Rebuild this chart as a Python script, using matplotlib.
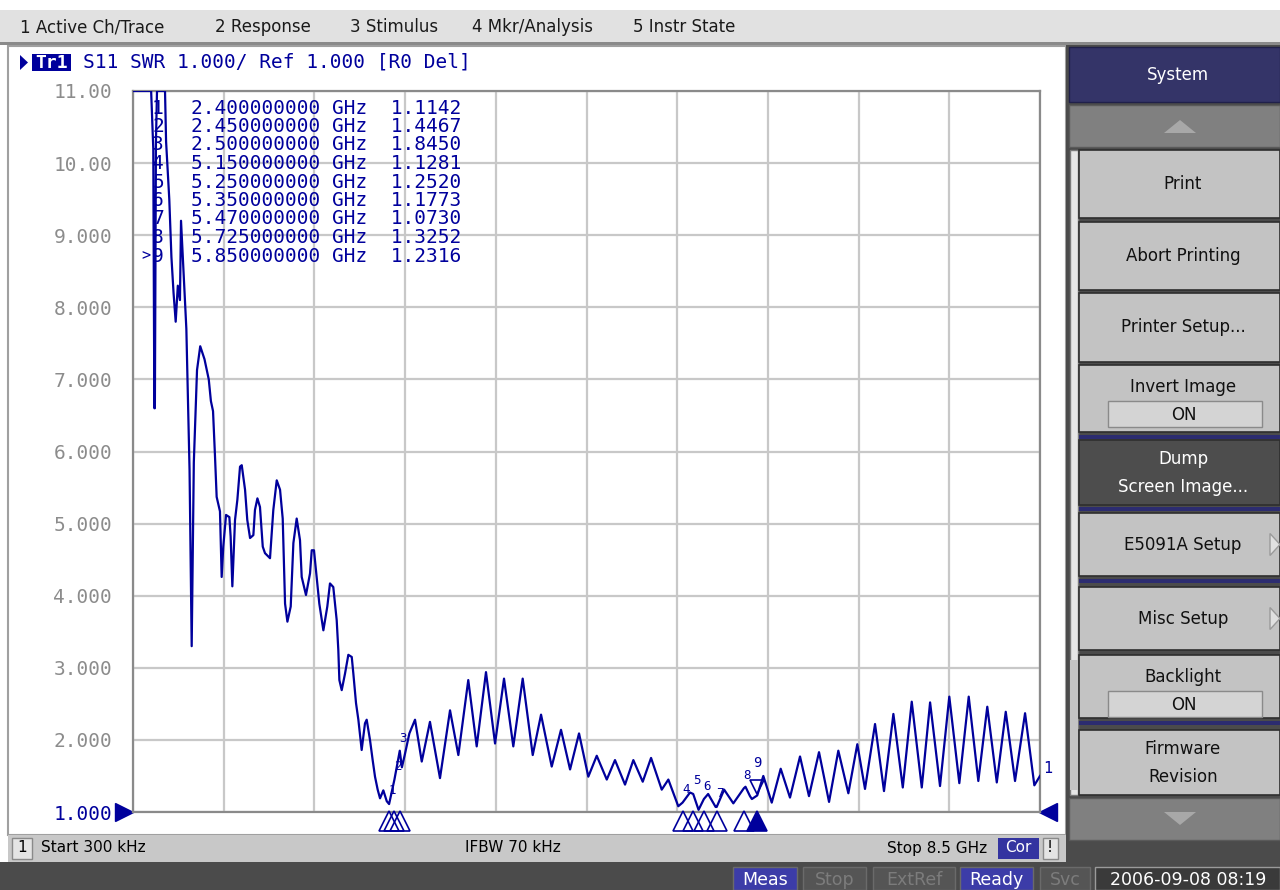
import numpy as np
import matplotlib
matplotlib.use("Agg")
import matplotlib.pyplot as plt
from matplotlib.patches import Rectangle, Polygon
from matplotlib.transforms import blended_transform_factory

# S11 SWR trace
freq_ghz = [0.0003, 0.17, 0.19, 0.20, 0.205, 0.215, 0.225, 0.27, 0.30, 0.31,
            0.34, 0.36, 0.38, 0.40, 0.42, 0.44, 0.45, 0.47, 0.50, 0.53,
            0.55, 0.57, 0.60, 0.63, 0.67, 0.71, 0.73, 0.75, 0.768, 0.784,
            0.815, 0.831, 0.846, 0.872, 0.903, 0.915, 0.931, 0.956, 0.978, 1.003,
            1.019, 1.050, 1.071, 1.097, 1.128, 1.143, 1.166, 1.190, 1.216, 1.237,
            1.284, 1.315, 1.347, 1.378, 1.403, 1.425, 1.447, 1.478, 1.503, 1.534,
            1.565, 1.581, 1.621, 1.659, 1.675, 1.696, 1.721, 1.746, 1.784, 1.821,
            1.846, 1.877, 1.909, 1.924, 1.934, 1.956, 1.987, 2.018, 2.050, 2.065,
            2.090, 2.112, 2.143, 2.174, 2.190, 2.221, 2.246, 2.268, 2.293, 2.315,
            2.346, 2.378, 2.40, 2.45, 2.50, 2.52, 2.545, 2.59, 2.643, 2.706,
            2.783, 2.877, 2.971, 3.049, 3.142, 3.221, 3.308, 3.393, 3.477, 3.564,
            3.652, 3.746, 3.824, 3.924, 4.011, 4.096, 4.180, 4.267, 4.346, 4.440,
            4.517, 4.611, 4.689, 4.777, 4.855, 4.955, 5.017, 5.11, 5.15, 5.22,
            5.25, 5.30, 5.35, 5.39, 5.46, 5.47, 5.54, 5.626, 5.725, 5.74,
            5.782, 5.80, 5.85, 5.907, 5.986, 6.070, 6.157, 6.251, 6.335, 6.429,
            6.523, 6.610, 6.704, 6.788, 6.860, 6.954, 7.038, 7.126, 7.214, 7.298,
            7.392, 7.470, 7.563, 7.650, 7.744, 7.832, 7.922, 8.006, 8.095, 8.179,
            8.266, 8.360, 8.447, 8.50]
swr = [11.5, 11.5, 10.2, 6.6, 6.6, 10.3, 11.5, 11.5, 11.5, 10.3,
       9.5, 8.7, 8.2, 7.8, 8.3, 8.1, 9.2, 8.6, 7.7, 5.74,
       3.3, 5.85, 7.13, 7.46, 7.28, 7.0, 6.7, 6.56, 5.95, 5.37,
       5.17, 4.26, 4.68, 5.12, 5.09, 4.82, 4.13, 5.05, 5.33, 5.79,
       5.81, 5.47, 5.05, 4.80, 4.84, 5.19, 5.35, 5.23, 4.68, 4.59,
       4.52, 5.19, 5.60, 5.47, 5.07, 3.89, 3.64, 3.85, 4.73, 5.07,
       4.77, 4.26, 4.01, 4.31, 4.63, 4.63, 4.26, 3.89, 3.52, 3.85,
       4.17, 4.12, 3.66, 3.25, 2.83, 2.69, 2.92, 3.18, 3.15, 2.92,
       2.51, 2.28, 1.86, 2.23, 2.28, 2.00, 1.72, 1.49, 1.31, 1.19,
       1.30, 1.15, 1.11, 1.45, 1.85, 1.62, 1.78, 2.09, 2.28, 1.70,
       2.25, 1.47, 2.41, 1.79, 2.83, 1.91, 2.94, 1.95, 2.85, 1.91,
       2.85, 1.79, 2.35, 1.63, 2.14, 1.59, 2.09, 1.49, 1.78, 1.45,
       1.72, 1.38, 1.72, 1.42, 1.75, 1.31, 1.45, 1.08, 1.13, 1.27,
       1.25, 1.03, 1.18, 1.25, 1.07, 1.07, 1.31, 1.12, 1.33, 1.35,
       1.22, 1.18, 1.23, 1.50, 1.13, 1.60, 1.20, 1.77, 1.22, 1.83,
       1.14, 1.85, 1.26, 1.94, 1.32, 2.22, 1.29, 2.36, 1.34, 2.53,
       1.34, 2.52, 1.36, 2.60, 1.40, 2.60, 1.43, 2.46, 1.41, 2.39,
       1.43, 2.37, 1.37, 1.50]

# markers
mk_num = [1, 2, 3, 4, 5, 6, 7, 8, 9]
mk_freq = [2.40, 2.45, 2.50, 5.15, 5.25, 5.35, 5.47, 5.725, 5.85]
mk_val = [1.1142, 1.4467, 1.8450, 1.1281, 1.2520, 1.1773, 1.0730, 1.3252, 1.2316]
active_mk = 9

y_ticks = [11, 10, 9, 8, 7, 6, 5, 4, 3, 2, 1]
y_labels = ["11.00", "10.00", "9.000", "8.000", "7.000", "6.000",
            "5.000", "4.000", "3.000", "2.000", "1.000"]
x_ticks = [0.85 * k for k in range(11)]

menu_items = ["1 Active Ch/Trace", "2 Response", "3 Stimulus", "4 Mkr/Analysis", "5 Instr State"]
header = "S11 SWR 1.000/ Ref 1.000 [R0 Del]"
start_txt = "Start 300 kHz"
ifbw_txt = "IFBW 70 kHz"
stop_txt = "Stop 8.5 GHz"
status_items = ["Meas", "Stop", "ExtRef", "Ready", "Svc"]
status_on = [True, False, False, True, False]
date_txt = "2006-09-08 08:19"

NAVY = "#00009c"
MONO = "DejaVu Sans Mono"
plt.rcParams["font.family"] = ["DejaVu Sans"]

fig = plt.figure(figsize=(12.8, 8.9), dpi=100)
fig.patch.set_facecolor("white")

# background axes in pixel units for the instrument chrome
bg = fig.add_axes([0, 0, 1, 1], zorder=0)
bg.set_xlim(0, 1280)
bg.set_ylim(890, 0)
bg.axis("off")

ov = fig.add_axes([0, 0, 1, 1], zorder=3)
ov.set_xlim(0, 1280)
ov.set_ylim(890, 0)
ov.axis("off")
ov.patch.set_alpha(0)


def box(a, x0, y0, x1, y1, fc, ec="none", lw=0, z=1):
    a.add_patch(Rectangle((x0, y0), x1 - x0, y1 - y0, facecolor=fc,
                          edgecolor=ec, linewidth=lw, zorder=z))


# menu bar
box(bg, 0, 10, 1280, 42, "#e1e1e1")
box(bg, 0, 42, 1280, 45, "#8a8a8a")
menu_x = [20, 215, 350, 472, 633]
for mx, item in zip(menu_x, menu_items):
    bg.text(mx, 27, item, fontsize=12, color="#1a1a1a", va="center", ha="left")

# chart panel
box(bg, 8, 46, 1066, 835, "white", "#a0a0a0", 1.5)
box(bg, 8, 835, 1066, 862, "#c8c8c8")
box(bg, 12, 838, 32, 859, "#e4e4e4", "#8a8a8a", 1)
bg.text(22, 848, "1", fontsize=11, va="center", ha="center", color="black")
bg.text(41, 848, start_txt, fontsize=11, va="center", ha="left", color="black")
bg.text(513, 848, ifbw_txt, fontsize=11, va="center", ha="center", color="black")
bg.text(987, 848, stop_txt, fontsize=11, va="center", ha="right", color="black")
box(bg, 998, 838, 1039, 859, "#3434a0")
bg.text(1018, 848, "Cor", fontsize=11, va="center", ha="center", color="white")
box(bg, 1043, 838, 1058, 859, "#e4e4e4", "#8a8a8a", 1)
bg.text(1050, 848, "!", fontsize=11, va="center", ha="center", color="black")

# bottom status bar
box(bg, 0, 862, 1280, 890, "#4b4b4b")
status_x = [(733, 797), (803, 866), (873, 955), (960, 1033), (1040, 1090)]
for (x0, x1), label, on in zip(status_x, status_items, status_on):
    box(bg, x0, 867, x1, 890, "#3c3ca8" if on else "#555555", "#6a6a6a", 1)
    bg.text((x0 + x1) / 2, 880, label, fontsize=12.5, va="center", ha="center",
            color="white" if on else "#7c7c7c")
box(bg, 1095, 867, 1280, 890, "#3a3a3a", "#9a9a9a", 1)
bg.text(1188, 880, date_txt, fontsize=12.5, va="center", ha="center", color="white")

# trace header line
bg.add_patch(Polygon([[20, 55], [20, 70], [28, 62.5]], closed=True, facecolor=NAVY, zorder=2))
box(bg, 32, 54, 71, 71, NAVY, z=2)
bg.text(51.5, 62.5, "Tr1", family=MONO, fontsize=13, fontweight="bold",
        color="white", va="center", ha="center", zorder=3)
bg.text(83, 62.5, header, family=MONO, fontsize=14, color=NAVY, va="center", ha="left")

# right soft key panel
box(bg, 1066, 45, 1280, 862, "#4b4b4b")
box(bg, 1069, 47, 1280, 102, "#343468", "#20204a", 1)
bg.text(1178, 75, "System", fontsize=12, va="center", ha="center", color="white")
box(bg, 1069, 105, 1280, 147, "#808080", "#5a5a5a", 1)
bg.add_patch(Polygon([[1164, 133], [1196, 133], [1180, 120]], closed=True,
                     facecolor="#a8a8a8", zorder=2))
box(bg, 1069, 798, 1280, 840, "#808080", "#5a5a5a", 1)
bg.add_patch(Polygon([[1164, 812], [1196, 812], [1180, 825]], closed=True,
                     facecolor="#a8a8a8", zorder=2))

# scroll bar strip
box(bg, 1070, 150, 1078, 795, "#e6e6e6", "#7a7a7a", 1)
box(bg, 1070, 660, 1078, 790, "#c4c4c4")

softkeys = [
    (["Print"], 150, 218, "light"),
    (["Abort Printing"], 222, 290, "light"),
    (["Printer Setup..."], 293, 362, "light"),
    (["Invert Image", "ON"], 365, 432, "toggle"),
    (["Dump", "Screen Image..."], 440, 505, "dark"),
    (["E5091A Setup"], 513, 576, "sub"),
    (["Misc Setup"], 587, 650, "sub"),
    (["Backlight", "ON"], 655, 718, "toggle"),
    (["Firmware", "Revision"], 730, 795, "light"),
]
for lines, y0, y1, kind in softkeys:
    dark = kind == "dark"
    box(bg, 1079, y0, 1280, y1, "#4d4d4d" if dark else "#c3c3c3", "#2e2e2e", 1.2)
    tc = "white" if dark else "#111111"
    if kind == "toggle":
        bg.text(1183, y0 + 22, lines[0], fontsize=12, va="center", ha="center", color=tc)
        box(bg, 1108, y0 + 36, 1262, y0 + 62, "#d4d4d4", "#8a8a8a", 1, z=2)
        bg.text(1184, y0 + 49.5, lines[1], fontsize=12, va="center", ha="center", color=tc, zorder=3)
    elif len(lines) == 2:
        ym = (y0 + y1) / 2
        bg.text(1183, ym - 14, lines[0], fontsize=12, va="center", ha="center", color=tc)
        bg.text(1183, ym + 14, lines[1], fontsize=12, va="center", ha="center", color=tc)
    else:
        bg.text(1183, (y0 + y1) / 2, lines[0], fontsize=12, va="center", ha="center", color=tc)
    if kind == "sub":
        ym = (y0 + y1) / 2
        bg.add_patch(Polygon([[1270, ym - 11], [1270, ym + 11], [1280, ym]], closed=True,
                             facecolor="#e0e0e0", edgecolor="#9a9a9a", lw=1, zorder=2))

for ys in [435, 507, 579, 721]:
    box(bg, 1079, ys, 1280, ys + 4, "#2c2c70", z=2)

# plot area
ax = fig.add_axes([133 / 1280, (890 - 812) / 890, 907 / 1280, 721 / 890], zorder=1)
ax.set_xlim(0.0003, 8.5)
ax.set_ylim(1, 11)
ax.set_xticks(x_ticks)
ax.set_yticks(y_ticks)
ax.set_xticklabels([])
ax.set_yticklabels(y_labels, family=MONO, fontsize=14)
for lab in ax.get_yticklabels():
    lab.set_color(NAVY if lab.get_text() == "1.000" else "#8c8c8c")
ax.tick_params(length=0, pad=15)
ax.grid(True, color="#c8c8c8", linewidth=1.6)
ax.set_axisbelow(True)
for sp in ax.spines.values():
    sp.set_color("#8a8a8a")
    sp.set_linewidth(1.6)

ax.plot(freq_ghz, np.minimum(swr, 11), color=NAVY, linewidth=1.6, zorder=3)

# reference level arrows
ref_tr = blended_transform_factory(ax.transAxes, ax.transData)
ax.plot([-0.0099], [1], marker=">", markersize=13, color=NAVY, transform=ref_tr, clip_on=False)
ax.plot([1.0088], [1], marker="<", markersize=13, color=NAVY, transform=ref_tr, clip_on=False)
ax.text(8.53, 1.6, "1", family=MONO, fontsize=11, color=NAVY, va="center", ha="left", clip_on=False)

# marker symbols along the bottom and labels on the trace
mk_tr = blended_transform_factory(ax.transData, ax.transAxes)
for n, f, v in zip(mk_num, mk_freq, mk_val):
    filled = n == active_mk
    ax.plot([f], [-0.013], marker="^", markersize=14, transform=mk_tr, clip_on=False,
            markerfacecolor=NAVY if filled else "none", markeredgecolor=NAVY,
            markeredgewidth=1.2, zorder=4)
    if filled:
        ax.plot([f], [v + 0.12], marker="v", markersize=10, markerfacecolor="none",
                markeredgecolor=NAVY, markeredgewidth=1.2, zorder=4)
        ax.text(f, v + 0.45, str(n), family=MONO, fontsize=10, color=NAVY,
                ha="center", va="center", zorder=4)
    else:
        ax.text(f + 0.03, v + 0.18, str(n), family=MONO, fontsize=9, color=NAVY,
                ha="center", va="center", zorder=4)

# marker readout table
for i, (n, f, v) in enumerate(zip(mk_num, mk_freq, mk_val)):
    yy = 108 + 18.5 * i
    ov.text(158, yy, str(n), family=MONO, fontsize=14, color=NAVY, va="center", ha="center")
    if n == active_mk:
        ov.text(146, yy, ">", family=MONO, fontsize=11, color=NAVY, va="center", ha="center")
    ov.text(191, yy, f"{f:.9f} GHz  {v:.4f}", family=MONO, fontsize=14,
            color=NAVY, va="center", ha="left")

fig.savefig("out.png", dpi=100)
